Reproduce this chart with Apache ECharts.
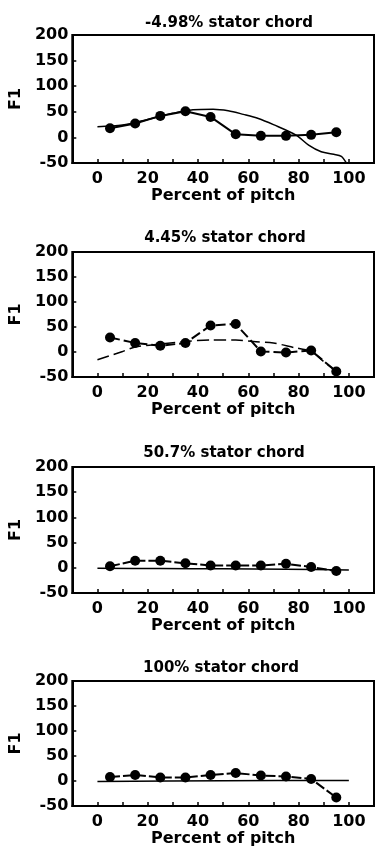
<!DOCTYPE html>
<html>
<head>
<meta charset="utf-8">
<script src="https://cdn.jsdelivr.net/npm/echarts@6/dist/echarts.min.js"></script>
<style>
html,body{margin:0;padding:0;background:#fff;}
#chart{width:377px;height:853px;}
</style>
</head>
<body>
<div id="chart"></div>
<script>
// ---- data ----
var panelTitles = ['-4.98% stator chord', '4.45% stator chord', '50.7% stator chord', '100% stator chord'];
var pitchPoints = [5, 15, 25, 35, 45, 55, 65, 75, 85, 95];
var measured1 = [18, 27, 42, 51, 40, 6, 3, 3, 5, 10];
var measured2 = [29, 18, 12.5, 18, 53, 56, 1, -1, 3, -39];
var measured3 = [3, 14, 14, 9, 4.5, 4.5, 4.5, 8, 1.5, -6.5];
var measured4 = [8, 12, 7, 7, 12, 16, 11, 9, 4, -33];
var curve1X = [0, 10, 20, 30, 38, 46, 52, 58, 64, 70, 79, 84, 89, 94, 97, 99];
var curve1Y = [21, 24, 35, 47, 54, 55, 52, 45, 37, 25, 4.5, -15, -28, -33, -37, -50];
var curve2X = [0, 10, 15, 25, 35, 45, 55, 62, 70, 78, 85, 90, 95];
var curve2Y = [-15.5, 1, 10, 16, 21, 24, 24, 21, 18, 9, 1, -19, -39];
var curve3X = [0, 25, 50, 75, 100];
var curve3Y = [-1, -1.5, -2, -3, -4.5];
var curve4X = [0, 50, 100];
var curve4Y = [-1, 0.5, 1];
var xTickLabels = [0, 20, 40, 60, 80, 100];
var yTickLabels = [-50, 0, 50, 100, 150, 200];

var measured = [measured1, measured2, measured3, measured4];
var curvesX = [curve1X, curve2X, curve3X, curve4X];
var curvesY = [curve1Y, curve2Y, curve3Y, curve4Y];

// ---- layout / style ----
var FONT = 'DejaVu Sans';
var gridTops = [35, 252, 467, 681];
var gridHeights = [128, 125, 126, 125];
var gridLefts = [68, 68, 67, 67];
var titleLefts = [224, 220, 219, 216];
var titleTops = [11, 226, 441, 656];
var dotDash = ['solid', [10, 4], [10, 3], [10, 3]];
var curveDash = ['solid', [12, 5], 'solid', 'solid'];

function pairs(xs, ys) { return xs.map(function (x, i) { return [x, ys[i]]; }); }

var titleStyle = { fontFamily: FONT, fontWeight: 'bold', fontSize: 15, color: '#000' };
var nameStyle = { fontFamily: FONT, fontWeight: 'bold', fontSize: 16, color: '#000' };

var option = {
  backgroundColor: '#fff',
  animation: false,
  title: [], grid: [], xAxis: [], yAxis: [], series: []
};

for (var i = 0; i < 4; i++) {
  option.title.push({
    text: panelTitles[i], left: titleLefts[i], top: titleTops[i], textAlign: 'center',
    textStyle: titleStyle
  });
  option.grid.push({
    left: gridLefts[i], top: gridTops[i], width: 314, height: gridHeights[i],
    show: true, borderColor: '#000', borderWidth: 2, backgroundColor: 'transparent', containLabel: false
  });
  option.xAxis.push({
    type: 'value', gridIndex: i, min: -10, max: 110, interval: 10,
    name: 'Percent of pitch', nameLocation: 'middle', nameGap: 25,
    nameTextStyle: nameStyle,
    axisLine: { show: true, onZero: false, lineStyle: { color: '#000', width: 2 } },
    axisTick: { show: true, inside: true, length: 4, lineStyle: { color: '#000', width: 1.5 } },
    splitLine: { show: false },
    axisLabel: {
      margin: 8, fontFamily: FONT, fontWeight: 'bold', fontSize: 16, color: '#000',
      showMinLabel: true, showMaxLabel: true,
      formatter: function (v) { return xTickLabels.indexOf(v) >= 0 ? String(v) : ''; }
    }
  });
  option.yAxis.push({
    type: 'value', gridIndex: i, min: -50, max: 200, interval: 50,
    name: 'F1', nameLocation: 'middle', nameGap: 40, nameRotate: 90,
    nameTextStyle: nameStyle,
    axisLine: { show: true, onZero: false, lineStyle: { color: '#000', width: 2 } },
    axisTick: { show: true, inside: true, length: 4, lineStyle: { color: '#000', width: 1.5 } },
    splitLine: { show: false },
    axisLabel: {
      margin: 4, fontFamily: FONT, fontWeight: 'bold', fontSize: 16, color: '#000',
      formatter: function (v) { return yTickLabels.indexOf(v) >= 0 ? String(v) : ''; }
    }
  });
  option.series.push({
    type: 'line', xAxisIndex: i, yAxisIndex: i, smooth: 0.3,
    data: pairs(curvesX[i], curvesY[i]), showSymbol: false, symbol: 'none',
    lineStyle: { color: '#000', width: 1.5, type: curveDash[i] }, clip: true, z: 2
  });
  option.series.push({
    type: 'line', xAxisIndex: i, yAxisIndex: i,
    data: pairs(pitchPoints, measured[i]),
    symbol: 'circle', symbolSize: 10,
    itemStyle: { color: '#000' },
    lineStyle: { color: '#000', width: 2, type: dotDash[i] }, z: 3
  });
}

var chart = echarts.init(document.getElementById('chart'), null, { renderer: 'canvas' });
chart.setOption(option);
</script>
</body>
</html>
